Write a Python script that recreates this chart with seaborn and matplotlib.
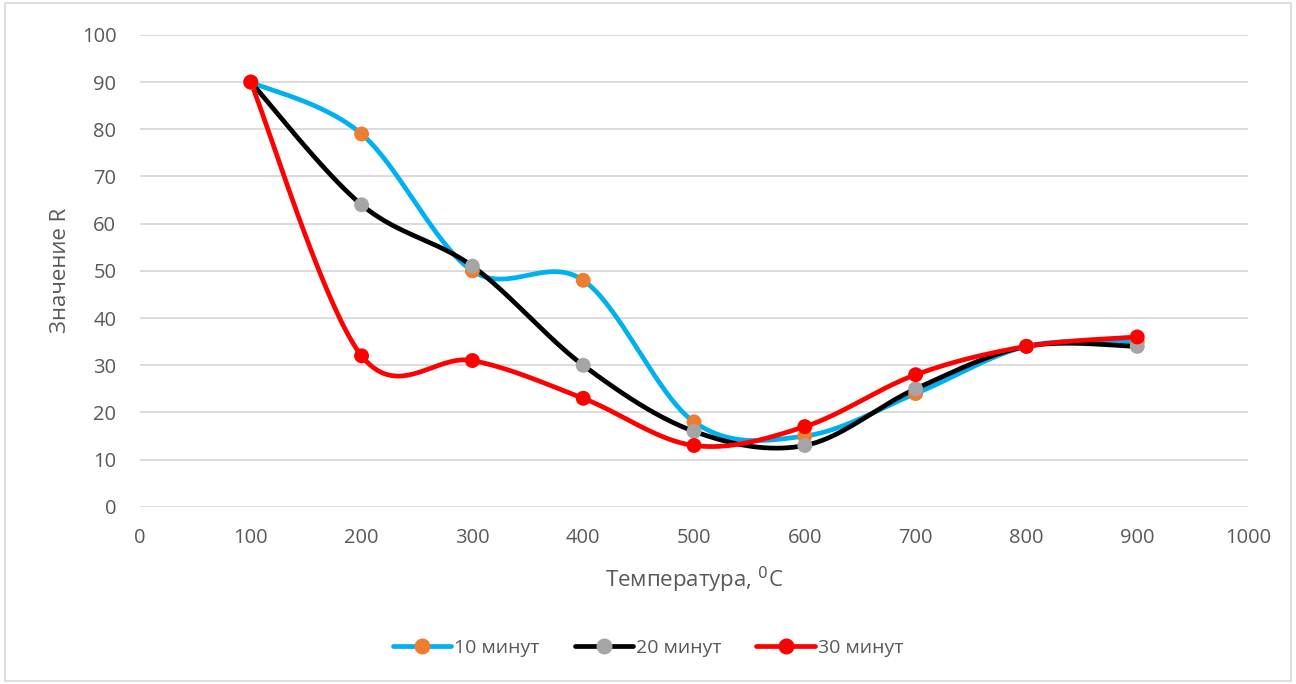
import numpy as np
import pandas as pd
import matplotlib
matplotlib.use("Agg")
import matplotlib.pyplot as plt
from matplotlib.lines import Line2D
from matplotlib.patches import Rectangle
import seaborn as sns

temps = [100, 200, 300, 400, 500, 600, 700, 800, 900]
r10 = [90, 79, 50, 48, 18, 15, 24, 34, 35]
r20 = [90, 64, 51, 30, 16, 13, 25, 34, 34]
r30 = [90, 32, 31, 23, 13, 17, 28, 34, 36]
labels = ["10 минут", "20 минут", "30 минут"]
line_colors = ["#00b0f0", "#000000", "#ff0000"]
marker_colors = ["#ed7d31", "#a5a5a5", "#ff0000"]

sns.set_theme(style="white")
plt.rcParams['font.family'] = ['Open Sans', 'DejaVu Sans']


def smooth(x, y, n=40):
    # Excel-like smoothing: cubic Bezier with Catmull-Rom control points
    x = np.asarray(x, float)
    y = np.asarray(y, float)
    px = np.concatenate([[x[0]], x, [x[-1]]])
    py = np.concatenate([[y[0]], y, [y[-1]]])
    xs, ys = [], []
    t = np.linspace(0, 1, n)
    for i in range(1, len(px) - 2):
        p0 = np.array([px[i], py[i]])
        p3 = np.array([px[i + 1], py[i + 1]])
        c1 = p0 + (np.array([px[i + 1], py[i + 1]]) - np.array([px[i - 1], py[i - 1]])) / 6
        c2 = p3 - (np.array([px[i + 2], py[i + 2]]) - np.array([px[i], py[i]])) / 6
        b = ((1 - t) ** 3)[:, None] * p0 + (3 * (1 - t) ** 2 * t)[:, None] * c1 + \
            (3 * (1 - t) * t ** 2)[:, None] * c2 + (t ** 3)[:, None] * p3
        xs.extend(b[:, 0])
        ys.extend(b[:, 1])
    return np.array(xs), np.array(ys)


fig = plt.figure(figsize=(12.96, 6.84), dpi=100)
fig.patches.append(Rectangle((0.004, 0.004), 0.992, 0.992, transform=fig.transFigure,
                             fill=False, edgecolor="#d9d9d9", linewidth=1.2))
ax = fig.add_axes([0.108, 0.259, 0.855, 0.69])

for vals, lab, lc, mc in zip([r10, r20, r30], labels, line_colors, marker_colors):
    sx, sy = smooth(temps, vals)
    ax.plot(sx, sy, color=lc, linewidth=3.4, solid_capstyle="round", zorder=3)
    df = pd.DataFrame({"T": temps, "R": vals})
    sns.scatterplot(data=df, x="T", y="R", ax=ax, color=mc, s=115, edgecolor="none",
                    zorder=4, legend=False)

ax.set_xlim(0, 1000)
ax.set_ylim(0, 100)
ax.set_xticks(np.arange(0, 1001, 100))
ax.set_yticks(np.arange(0, 101, 10))
ax.yaxis.grid(True, color="#d9d9d9", linewidth=1.3)
ax.xaxis.grid(False)
for s in ax.spines.values():
    s.set_visible(False)
ax.tick_params(axis="both", colors="#595959", labelsize=14.5, length=0)
ax.tick_params(axis="y", pad=17)
ax.tick_params(axis="x", pad=15)
ax.set_xlabel("Температура, $^{0}$C", fontsize=16, color="#595959", labelpad=12)
ax.set_ylabel("Значение R", fontsize=16, color="#595959", labelpad=8)

handles = [Line2D([0], [0], color=lc, linewidth=3.4, marker="o", markersize=10.5,
                  markerfacecolor=mc, markeredgecolor=mc)
           for lc, mc in zip(line_colors, marker_colors)]
leg = fig.legend(handles, labels, loc="center", bbox_to_anchor=(0.5, 0.053), ncol=3,
                 frameon=False, fontsize=14, handlelength=3.0, columnspacing=1.8,
                 handletextpad=0.15)
for t in leg.get_texts():
    t.set_color("#595959")

fig.savefig("out.png", dpi=100)
